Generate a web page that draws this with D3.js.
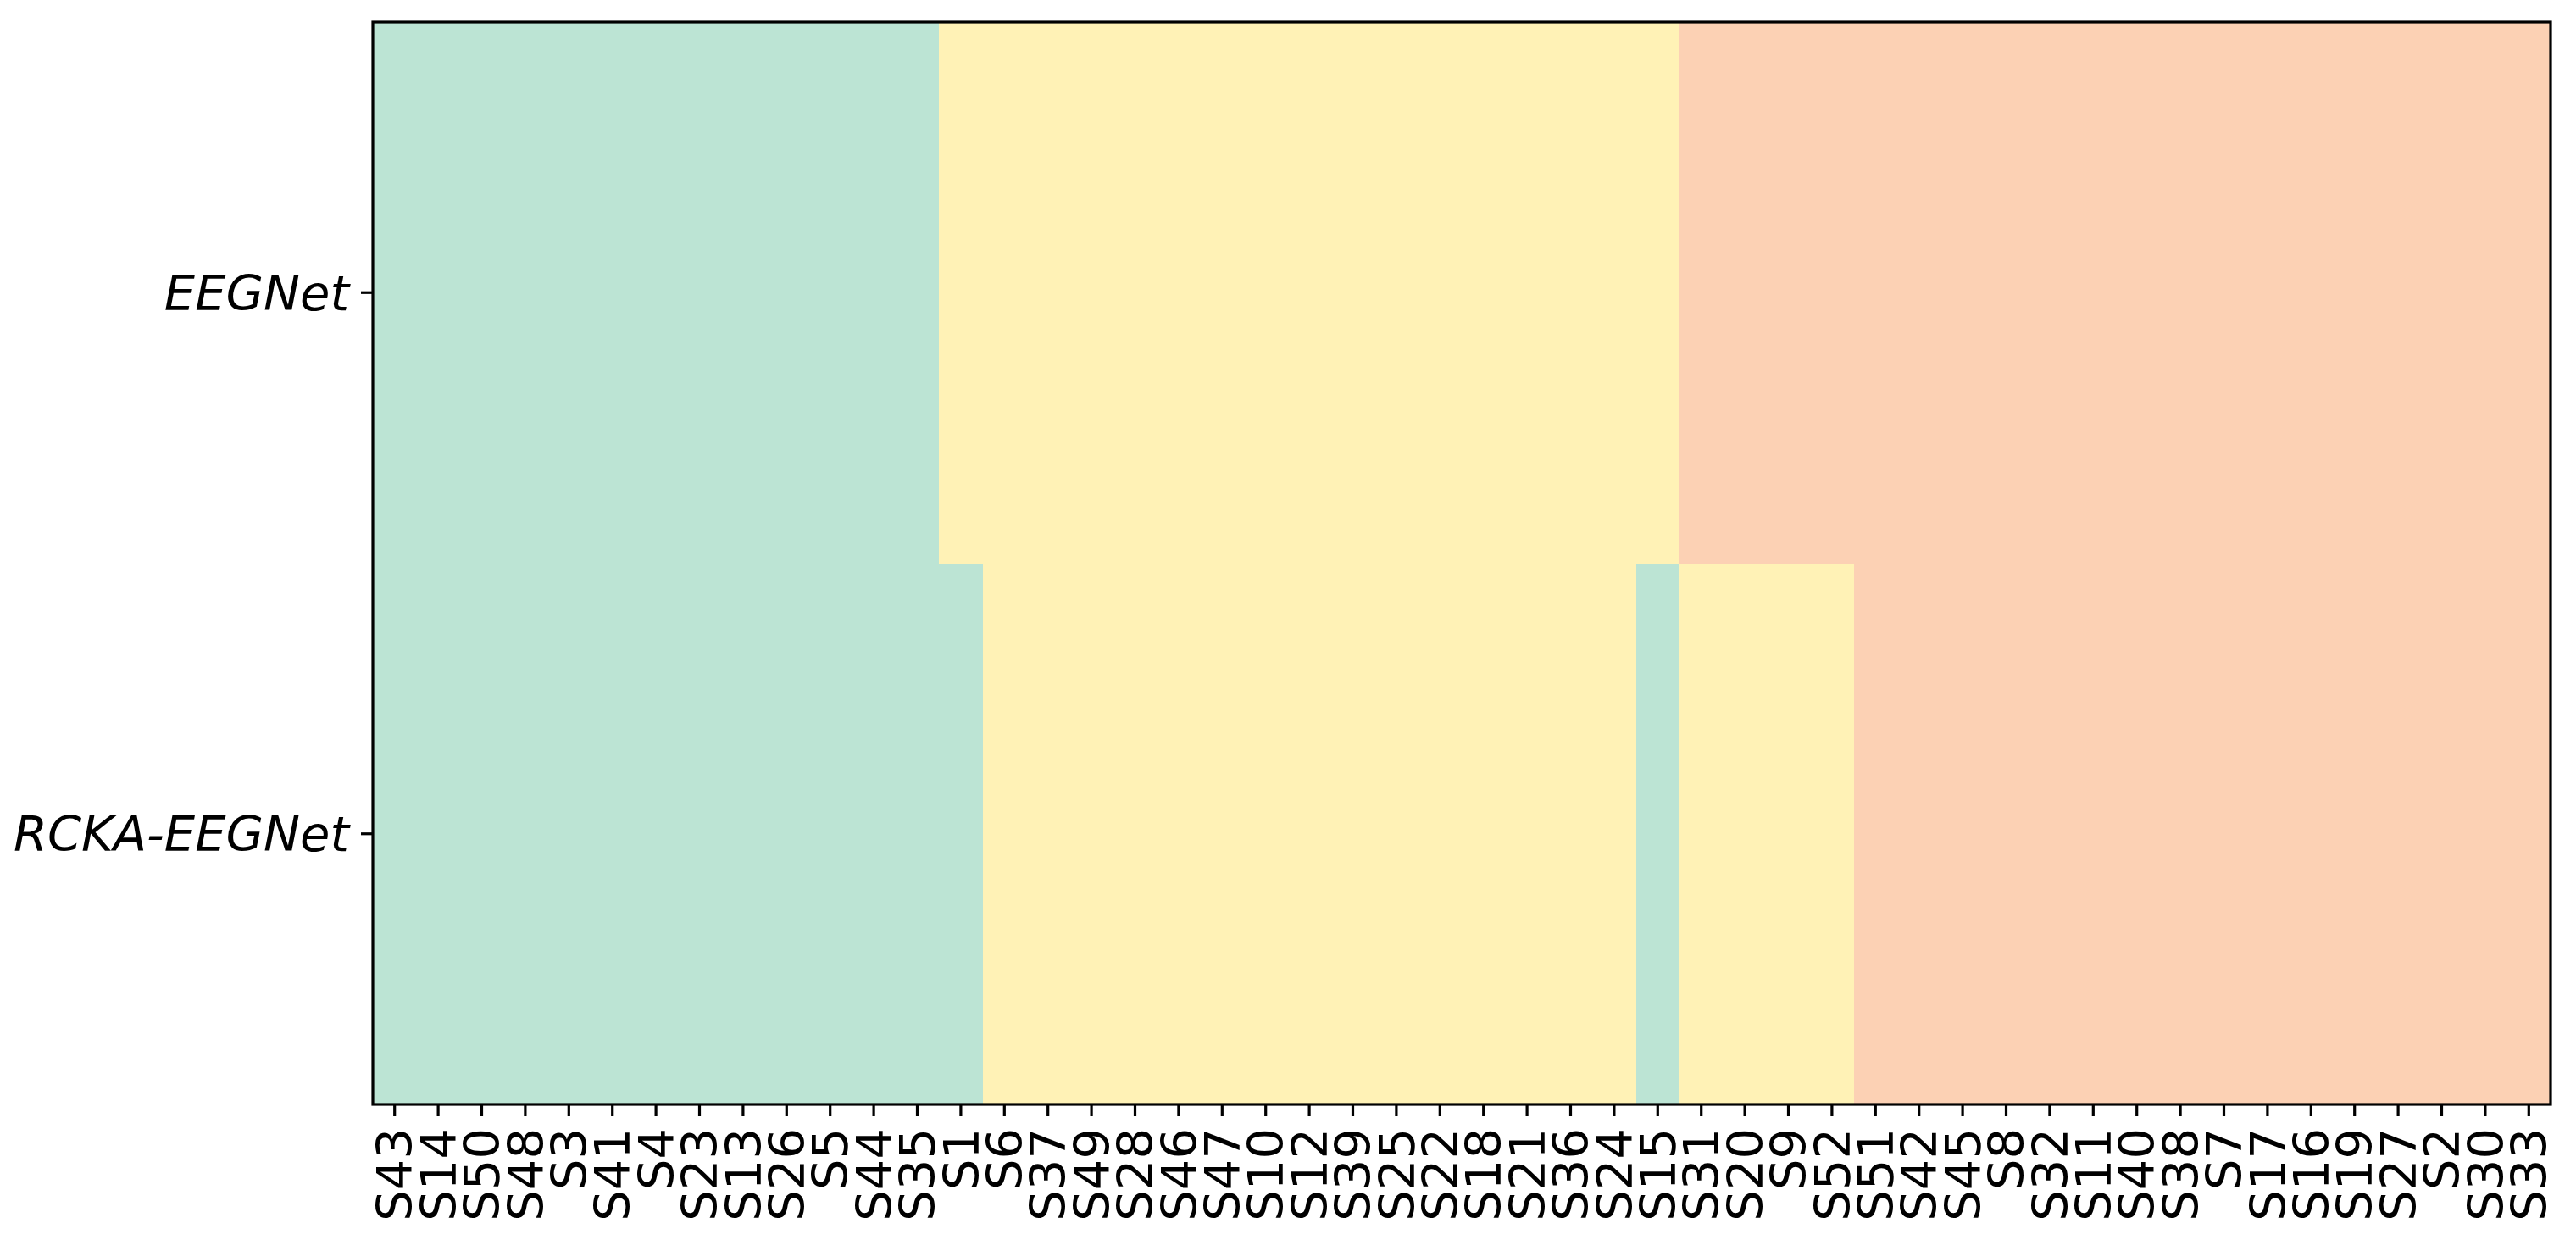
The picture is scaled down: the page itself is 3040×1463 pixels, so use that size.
<!DOCTYPE html>
<html>
<head>
<meta charset="utf-8">
<script src="https://cdn.jsdelivr.net/npm/d3@7"></script>
<style>
  html, body { margin: 0; padding: 0; background: #fff; }
  svg { display: block; font-family: "DejaVu Sans", sans-serif; }
</style>
</head>
<body>
<div class="container"></div>
<script>
const width = 3040, height = 1463;
const margin = { top: 26, right: 30, bottom: 160, left: 440 };
const fontSize = 57.5;

// subjects in column order
const subjects = ["S43", "S14", "S50", "S48", "S3", "S41", "S4", "S23", "S13", "S26",
  "S5", "S44", "S35", "S1", "S6", "S37", "S49", "S28", "S46", "S47",
  "S10", "S12", "S39", "S25", "S22", "S18", "S21", "S36", "S24", "S15",
  "S31", "S20", "S9", "S52", "S51", "S42", "S45", "S8", "S32", "S11",
  "S40", "S38", "S7", "S17", "S16", "S19", "S27", "S2", "S30", "S33"];

const models = ["EEGNet", "RCKA-EEGNet"];

// group per subject: 0 = low, 1 = mid, 2 = high
const eegnetGroup = [0, 0, 0, 0, 0, 0, 0, 0, 0, 0,
  0, 0, 0, 1, 1, 1, 1, 1, 1, 1,
  1, 1, 1, 1, 1, 1, 1, 1, 1, 1,
  2, 2, 2, 2, 2, 2, 2, 2, 2, 2,
  2, 2, 2, 2, 2, 2, 2, 2, 2, 2];

const rckaGroup = [0, 0, 0, 0, 0, 0, 0, 0, 0, 0,
  0, 0, 0, 0, 1, 1, 1, 1, 1, 1,
  1, 1, 1, 1, 1, 1, 1, 1, 1, 0,
  1, 1, 1, 1, 2, 2, 2, 2, 2, 2,
  2, 2, 2, 2, 2, 2, 2, 2, 2, 2];

const groupColors = ["#bce4d4", "#fff2b6", "#fcd1b4"];

const cells = [];
subjects.forEach((s, i) => {
  cells.push({ model: models[0], subject: s, group: eegnetGroup[i] });
  cells.push({ model: models[1], subject: s, group: rckaGroup[i] });
});

const svg = d3.select(".container")
  .append("svg")
  .attr("width", width)
  .attr("height", height);

const x = d3.scaleBand()
  .domain(subjects)
  .range([margin.left, width - margin.right]);

const y = d3.scaleBand()
  .domain(models)
  .range([margin.top, height - margin.bottom]);

const color = d3.scaleOrdinal()
  .domain([0, 1, 2])
  .range(groupColors);

svg.append("g")
  .attr("shape-rendering", "crispEdges")
  .selectAll("rect")
  .data(cells)
  .join("rect")
  .attr("x", d => x(d.subject))
  .attr("y", d => y(d.model))
  .attr("width", x.bandwidth() + 1)
  .attr("height", y.bandwidth() + 1)
  .attr("fill", d => color(d.group));

// x axis
const xAxis = svg.append("g")
  .attr("transform", `translate(0,${height - margin.bottom})`)
  .call(d3.axisBottom(x).tickSize(14).tickPadding(14).tickSizeOuter(0));
xAxis.select(".domain").remove();
xAxis.selectAll(".tick line").attr("stroke", "#000").attr("stroke-width", 3.2);
xAxis.selectAll(".tick text")
  .attr("font-size", fontSize)
  .attr("font-family", "DejaVu Sans")
  .attr("fill", "#000")
  .attr("transform", "rotate(-90)")
  .attr("text-anchor", "end")
  .attr("x", -28)
  .attr("y", 0)
  .attr("dy", "0.36em");

// y axis
const yAxis = svg.append("g")
  .attr("transform", `translate(${margin.left},0)`)
  .call(d3.axisLeft(y).tickSize(14).tickPadding(14).tickSizeOuter(0));
yAxis.select(".domain").remove();
yAxis.selectAll(".tick line").attr("stroke", "#000").attr("stroke-width", 3.2);
yAxis.selectAll(".tick text")
  .attr("font-size", fontSize)
  .attr("font-family", "DejaVu Sans")
  .attr("font-style", "italic")
  .attr("fill", "#000")
  .attr("dy", "0.36em");

// frame
svg.append("rect")
  .attr("x", margin.left)
  .attr("y", margin.top)
  .attr("width", width - margin.left - margin.right)
  .attr("height", height - margin.top - margin.bottom)
  .attr("fill", "none")
  .attr("stroke", "#000")
  .attr("stroke-width", 3.2);
</script>
</body>
</html>
